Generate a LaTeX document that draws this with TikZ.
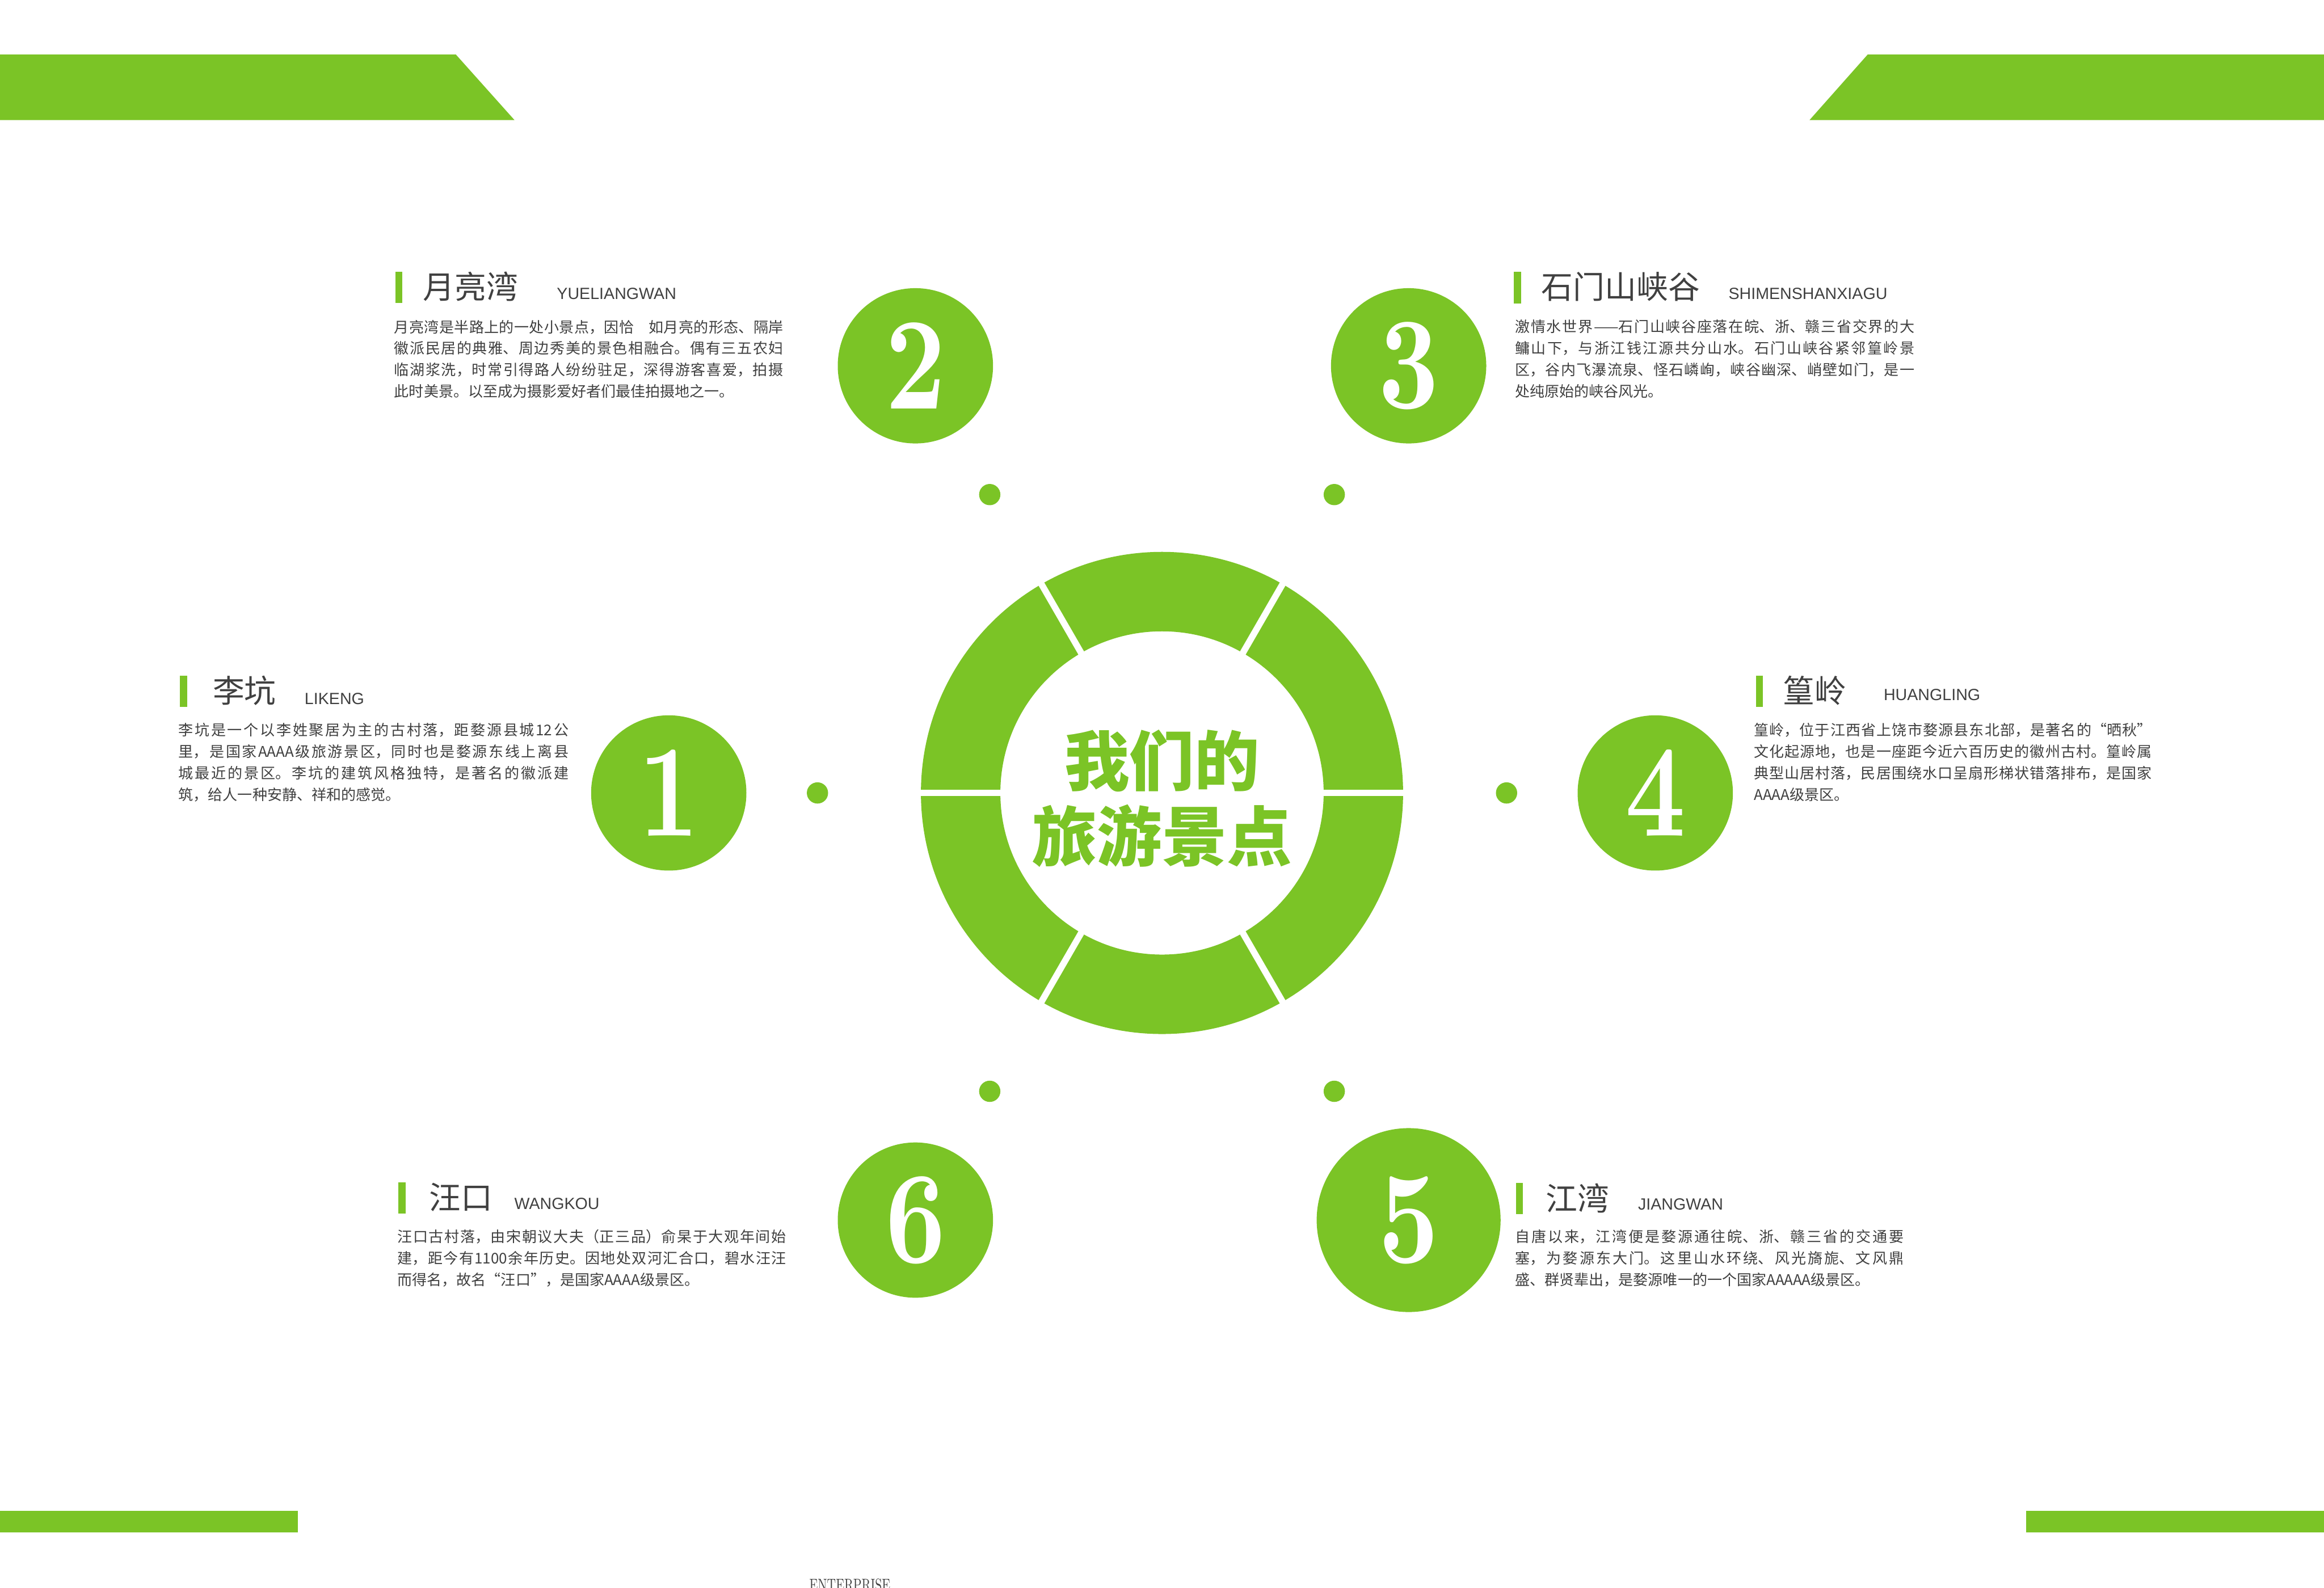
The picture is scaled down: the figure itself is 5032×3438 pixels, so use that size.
\documentclass[tikz,border=0pt]{standalone}
\usepackage{fontspec}
\usetikzlibrary{positioning}
\newfontfamily\cjk{Noto Sans CJK SC}
\newfontfamily\pinyin{Liberation Sans}
\newfontfamily\numfont{lmroman10-bold.otf}[FakeStretch=0.8]
\newfontfamily\entfont{lmroman10-regular.otf}[FakeStretch=0.7]
\XeTeXlinebreaklocale "zh"
\XeTeXlinebreakskip=0pt plus 3pt
\definecolor{tourgreen}{RGB}{123,196,38}
\definecolor{inkgrey}{RGB}{64,64,64}

\tikzset{
  numdisc/.style={circle, fill=tourgreen, inner sep=0pt, minimum size=#1,
    text=white, font=\numfont\fontsize{81}{81}\selectfont},
  dotmark/.style={circle, fill=tourgreen, inner sep=0pt, minimum size=0.46cm},
  spottitle/.style={anchor=west, inner sep=0pt, text=inkgrey,
    font=\cjk\fontsize{19.5}{20}\selectfont},
  spotpy/.style={anchor=base west, inner sep=0pt, text=inkgrey,
    font=\pinyin\fontsize{10}{12}\selectfont},
  spotbody/.style={anchor=north west, inner sep=0pt, text=inkgrey, text width=#1,
    align=justify, font=\cjk\fontsize{9.1}{13.23}\selectfont},
  ringtitle/.style={inner sep=0pt, text=tourgreen, align=center,
    font=\cjk\bfseries\fontsize{40}{46.7}\selectfont}
}

\begin{document}
\begin{tikzpicture}[x=0.01cm, y=-0.01cm]
  \fill[white] (0,0) rectangle (5032,3438);
  \useasboundingbox (0,0) rectangle (5032,3438);
  % corner bands
  \fill[tourgreen] (0,118) -- (987,118) -- (1114,260) -- (0,260) -- cycle;
  \fill[tourgreen] (4044,118) -- (5032,118) -- (5032,260) -- (3918,260) -- cycle;
  \fill[tourgreen] (0,3272) rectangle (645,3318);
  \fill[tourgreen] (4387,3272) rectangle (5032,3318);
  % ring
  \coordinate (ringc) at (2516,1717);
  \fill[tourgreen, even odd rule] (ringc) circle[radius=522] (ringc) circle[radius=350];
  \foreach \a in {0,60,...,300}{
    \draw[white, line width=0.14cm] ([shift={(\a:330)}]ringc) -- ([shift={(\a:540)}]ringc);
  }
  \node[ringtitle] (title) at (2516,1729) {我们的\\旅游景点};
  % discs and dots
  \foreach \n/\ang/\sz in {1/180/3.36cm, 2/240/3.36cm, 3/300/3.36cm, 4/0/3.36cm, 5/60/3.98cm, 6/120/3.36cm}{
    \node[numdisc=\sz] (num\n) at ([shift={(\ang:1068)}]ringc) {\n};
    \node[dotmark] (dot\n) at ([shift={(\ang:746)}]ringc) {};
  }
  % 2
  \fill[tourgreen] (856,588) rectangle (871,656);
  \node[spottitle] (t2) at (915,620) {月亮湾};
  \node[spotpy] (p2) at (1205,648) {YUELIANGWAN};
  \node[spotbody=8.42cm] (b2) at (853,692) {月亮湾是半路上的一处小景点，因恰　如月亮的形态、隔岸\linebreak 徽派民居的典雅、周边秀美的景色相融合。偶有三五农妇\linebreak 临湖浆洗，时常引得路人纷纷驻足，深得游客喜爱，拍摄\linebreak 此时美景。以至成为摄影爱好者们最佳拍摄地之一。};
  % 3
  \fill[tourgreen] (3278,589) rectangle (3293,657);
  \node[spottitle] (t3) at (3337,621) {石门山峡谷};
  \node[spotpy] (p3) at (3742,648) {SHIMENSHANXIAGU};
  \node[spotbody=8.64cm] (b3) at (3280,692) {激情水世界——石门山峡谷座落在皖、浙、赣三省交界的大\linebreak 鳙山下，与浙江钱江源共分山水。石门山峡谷紧邻篁岭景\linebreak 区，谷内飞瀑流泉、怪石嶙峋，峡谷幽深、峭壁如门，是一\linebreak 处纯原始的峡谷风光。};
  % 1
  \fill[tourgreen] (390,1463) rectangle (405,1531);
  \node[spottitle] (t1) at (460,1495) {李坑};
  \node[spotpy] (p1) at (659,1525) {LIKENG};
  \node[spotbody=8.44cm] (b1) at (386,1565) {李坑是一个以李姓聚居为主的古村落，距婺源县城12公\linebreak 里，是国家AAAA级旅游景区，同时也是婺源东线上离县\linebreak 城最近的景区。李坑的建筑风格独特，是著名的徽派建\linebreak 筑，给人一种安静、祥和的感觉。};
  % 4
  \fill[tourgreen] (3802,1463) rectangle (3817,1531);
  \node[spottitle] (t4) at (3860,1495) {篁岭};
  \node[spotpy] (p4) at (4078,1517) {HUANGLING};
  \node[spotbody=8.61cm] (b4) at (3797,1565) {篁岭，位于江西省上饶市婺源县东北部，是著名的“晒秋”\linebreak 文化起源地，也是一座距今近六百历史的徽州古村。篁岭属\linebreak 典型山居村落，民居围绕水口呈扇形梯状错落排布，是国家\linebreak AAAA级景区。};
  % 6
  \fill[tourgreen] (862,2560) rectangle (878,2628);
  \node[spottitle] (t6) at (929,2592) {汪口};
  \node[spotpy] (p6) at (1113,2619) {WANGKOU};
  \node[spotbody=8.41cm] (b6) at (860,2662) {汪口古村落，由宋朝议大夫（正三品）俞杲于大观年间始\linebreak 建，距今有1100余年历史。因地处双河汇合口，碧水汪汪\linebreak 而得名，故名“汪口”，是国家AAAA级景区。};
  % 5
  \fill[tourgreen] (3282,2562) rectangle (3297,2629);
  \node[spottitle] (t5) at (3346,2594) {江湾};
  \node[spotpy] (p5) at (3546,2620) {JIANGWAN};
  \node[spotbody=8.41cm] (b5) at (3280,2662) {自唐以来，江湾便是婺源通往皖、浙、赣三省的交通要\linebreak 塞，为婺源东大门。这里山水环绕、风光旖旎、文风鼎\linebreak 盛、群贤辈出，是婺源唯一的一个国家AAAAA级景区。};
  % footer
  \node[anchor=base west, inner sep=0pt, text=inkgrey, font=\entfont\fontsize{10.8}{12}\selectfont] (ent) at (1752,3445) {ENTERPRISE};
\end{tikzpicture}
\end{document}
